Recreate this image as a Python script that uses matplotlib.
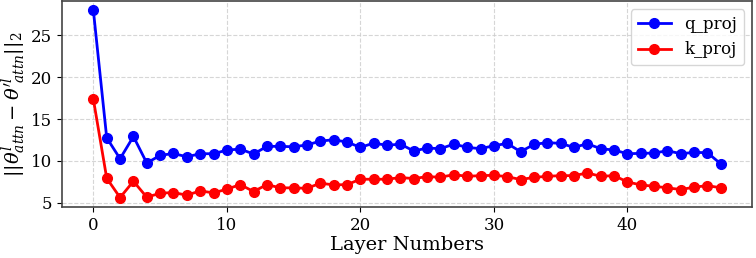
import matplotlib
matplotlib.use("Agg")
import matplotlib.pyplot as plt
import numpy as np

layers = list(range(48))
q_proj = [28.0, 12.77, 10.27, 12.93, 9.76, 10.67, 10.9, 10.5, 10.87, 10.87,
          11.3, 11.43, 10.83, 11.75, 11.75, 11.7, 11.92, 12.38, 12.54, 12.26,
          11.63, 12.14, 11.87, 12.02, 11.19, 11.55, 11.47, 12.02, 11.63, 11.47,
          11.83, 12.1, 11.11, 11.98, 12.2, 12.1, 11.63, 12.06, 11.47, 11.31,
          10.87, 10.91, 10.95, 11.23, 10.87, 11.03, 10.99, 9.64]
k_proj = [17.38, 7.94, 5.63, 7.58, 5.67, 6.15, 6.23, 5.91, 6.43, 6.19,
          6.63, 7.18, 6.35, 7.18, 6.79, 6.79, 6.73, 7.35, 7.14, 7.18,
          7.82, 7.82, 7.82, 8.02, 7.9, 8.13, 8.06, 8.37, 8.17, 8.25,
          8.29, 8.13, 7.78, 8.04, 8.17, 8.25, 8.25, 8.57, 8.17, 8.25,
          7.5, 7.14, 6.98, 6.79, 6.59, 6.87, 7.06, 6.79]

plt.rcParams['font.family'] = 'DejaVu Serif'
plt.rcParams['mathtext.fontset'] = 'dejavuserif'

fig, ax = plt.subplots(figsize=(7.56, 2.58), dpi=100)
ax.plot(layers, q_proj, color='blue', marker='o', markersize=7, linewidth=2, label='q_proj')
ax.plot(layers, k_proj, color='red', marker='o', markersize=7, linewidth=2, label='k_proj')
ax.grid(True, linestyle='--', color='#cccccc', alpha=0.8)
ax.set_xlabel('Layer Numbers', fontsize=14, labelpad=2)
ax.set_ylabel(r"$||\theta^{l}_{attn} - \theta'^{l}_{attn}||_2$", fontsize=14, labelpad=2)
ax.tick_params(labelsize=12)
for s in ax.spines.values():
    s.set_color('#444444')
    s.set_linewidth(1.2)
ax.legend(loc='upper right', fontsize=12)
fig.subplots_adjust(left=0.082, right=0.995, bottom=0.198, top=0.996)
fig.savefig('out.png', dpi=100)
